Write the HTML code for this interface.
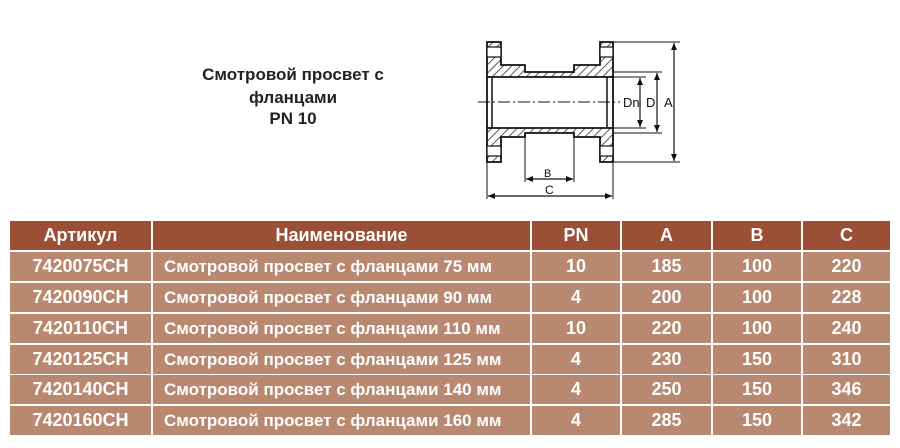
<!DOCTYPE html>
<html><head><meta charset="utf-8">
<style>
body{margin:0;background:#fff;width:900px;height:448px;position:relative;overflow:hidden;font-family:"Liberation Sans","DejaVu Sans",sans-serif;}
.t{position:absolute;left:180px;width:226px;text-align:center;font-weight:bold;font-size:17px;color:#222;}
.c{position:absolute;color:#fff;font-weight:bold;font-size:18px;line-height:29px;text-align:center;white-space:nowrap;}
.n{font-size:17px;text-align:left;padding-left:11px;width:366px !important;}
.h{background:#9b4f35;font-size:18px;}
.r{background:#b98870;}
</style></head><body>
<div class="t" style="top:65px">Смотровой просвет с</div>
<div class="t" style="top:88px">фланцами</div>
<div class="t" style="top:109px">PN 10</div>

<svg width="900" height="448" style="position:absolute;left:0;top:0" xmlns="http://www.w3.org/2000/svg">
<defs>
<pattern id="hp" patternUnits="userSpaceOnUse" width="6" height="6" patternTransform="rotate(45)">
<rect width="6" height="6" fill="#fff"/><line x1="0" y1="0" x2="0" y2="6" stroke="#222" stroke-width="1.5"/>
</pattern>
<marker id="ar" markerWidth="8" markerHeight="8" refX="7" refY="4" orient="auto-start-reverse" markerUnits="userSpaceOnUse"><path d="M0,1 L7,4 L0,7 Z" fill="#111"/></marker>
</defs>
<g stroke="#111" stroke-width="1.8" fill="url(#hp)">
<path d="M487,42 H501 V65 H525 V72 H574 V65 H600 V42 H613 V77 H487 Z"/>
<path d="M487,162 H501 V137 H525 V133 H574 V137 H600 V162 H613 V128 H487 Z"/>
</g>
<g fill="#fff" stroke="#111" stroke-width="1.2">
<rect x="487" y="47" width="14" height="10"/>
<rect x="600" y="47" width="13" height="10"/>
<rect x="487" y="146" width="14" height="10"/>
<rect x="600" y="146" width="13" height="10"/>
</g>
<rect x="488" y="78" width="124" height="49" fill="#fff"/>
<g stroke="#111" stroke-width="1.5" fill="none">
<line x1="492" y1="77" x2="492" y2="128"/>
<line x1="607" y1="77" x2="607" y2="128"/>
<line x1="487" y1="77" x2="487" y2="128" stroke-width="1.8"/>
<line x1="613" y1="77" x2="613" y2="128" stroke-width="1.8"/>
<line x1="478" y1="102" x2="620" y2="102" stroke-dasharray="12,3,2,3" stroke-width="1"/>
<line x1="613" y1="77" x2="646" y2="77" stroke-width="1"/>
<line x1="613" y1="128" x2="646" y2="128" stroke-width="1"/>
<line x1="613" y1="72" x2="662" y2="72" stroke-width="1"/>
<line x1="613" y1="133" x2="662" y2="133" stroke-width="1"/>
<line x1="613" y1="42" x2="680" y2="42" stroke-width="1"/>
<line x1="613" y1="162" x2="680" y2="162" stroke-width="1"/>
<line x1="640" y1="78" x2="640" y2="127" marker-start="url(#ar)" marker-end="url(#ar)" stroke-width="1.2"/>
<line x1="657" y1="73" x2="657" y2="132" marker-start="url(#ar)" marker-end="url(#ar)" stroke-width="1.2"/>
<line x1="674" y1="43" x2="674" y2="161" marker-start="url(#ar)" marker-end="url(#ar)" stroke-width="1.2"/>
<line x1="525" y1="137" x2="525" y2="182" stroke-width="1"/>
<line x1="574" y1="137" x2="574" y2="182" stroke-width="1"/>
<line x1="526" y1="179" x2="573" y2="179" marker-start="url(#ar)" marker-end="url(#ar)" stroke-width="1.2"/>
<line x1="487" y1="162" x2="487" y2="199" stroke-width="1"/>
<line x1="613" y1="162" x2="613" y2="199" stroke-width="1"/>
<line x1="488" y1="196" x2="612" y2="196" marker-start="url(#ar)" marker-end="url(#ar)" stroke-width="1.2"/>
</g>
<g font-family="Liberation Sans, sans-serif" font-size="13" fill="#111">
<text x="623" y="107">Dn</text>
<text x="646" y="107">D</text>
<text x="664" y="107">A</text>
<text x="544" y="177" font-size="11">B</text>
<text x="545" y="194" font-size="12">C</text>
</g>
</svg>

<div class="c h" style="left:10px;top:221px;width:141px;">Артикул</div>
<div class="c h" style="left:153px;top:221px;width:377px;">Наименование</div>
<div class="c h" style="left:532px;top:221px;width:88px;">PN</div>
<div class="c h" style="left:622px;top:221px;width:89px;">A</div>
<div class="c h" style="left:713px;top:221px;width:88px;">B</div>
<div class="c h" style="left:803px;top:221px;width:87px;">C</div>

<div class="c r" style="left:10px;top:252px;width:141px;">7420075CH</div>
<div class="c r n" style="left:153px;top:252px;">Смотровой просвет с фланцами 75 мм</div>
<div class="c r" style="left:532px;top:252px;width:88px;">10</div>
<div class="c r" style="left:622px;top:252px;width:89px;">185</div>
<div class="c r" style="left:713px;top:252px;width:88px;">100</div>
<div class="c r" style="left:803px;top:252px;width:87px;">220</div>

<div class="c r" style="left:10px;top:283px;width:141px;">7420090CH</div>
<div class="c r n" style="left:153px;top:283px;">Смотровой просвет с фланцами 90 мм</div>
<div class="c r" style="left:532px;top:283px;width:88px;">4</div>
<div class="c r" style="left:622px;top:283px;width:89px;">200</div>
<div class="c r" style="left:713px;top:283px;width:88px;">100</div>
<div class="c r" style="left:803px;top:283px;width:87px;">228</div>

<div class="c r" style="left:10px;top:314px;width:141px;">7420110CH</div>
<div class="c r n" style="left:153px;top:314px;">Смотровой просвет с фланцами 110 мм</div>
<div class="c r" style="left:532px;top:314px;width:88px;">10</div>
<div class="c r" style="left:622px;top:314px;width:89px;">220</div>
<div class="c r" style="left:713px;top:314px;width:88px;">100</div>
<div class="c r" style="left:803px;top:314px;width:87px;">240</div>

<div class="c r" style="left:10px;top:345px;width:141px;">7420125CH</div>
<div class="c r n" style="left:153px;top:345px;">Смотровой просвет с фланцами 125 мм</div>
<div class="c r" style="left:532px;top:345px;width:88px;">4</div>
<div class="c r" style="left:622px;top:345px;width:89px;">230</div>
<div class="c r" style="left:713px;top:345px;width:88px;">150</div>
<div class="c r" style="left:803px;top:345px;width:87px;">310</div>

<div class="c r" style="left:10px;top:375px;width:141px;">7420140CH</div>
<div class="c r n" style="left:153px;top:375px;">Смотровой просвет с фланцами 140 мм</div>
<div class="c r" style="left:532px;top:375px;width:88px;">4</div>
<div class="c r" style="left:622px;top:375px;width:89px;">250</div>
<div class="c r" style="left:713px;top:375px;width:88px;">150</div>
<div class="c r" style="left:803px;top:375px;width:87px;">346</div>

<div class="c r" style="left:10px;top:406px;width:141px;">7420160CH</div>
<div class="c r n" style="left:153px;top:406px;">Смотровой просвет с фланцами 160 мм</div>
<div class="c r" style="left:532px;top:406px;width:88px;">4</div>
<div class="c r" style="left:622px;top:406px;width:89px;">285</div>
<div class="c r" style="left:713px;top:406px;width:88px;">150</div>
<div class="c r" style="left:803px;top:406px;width:87px;">342</div>
</body></html>
